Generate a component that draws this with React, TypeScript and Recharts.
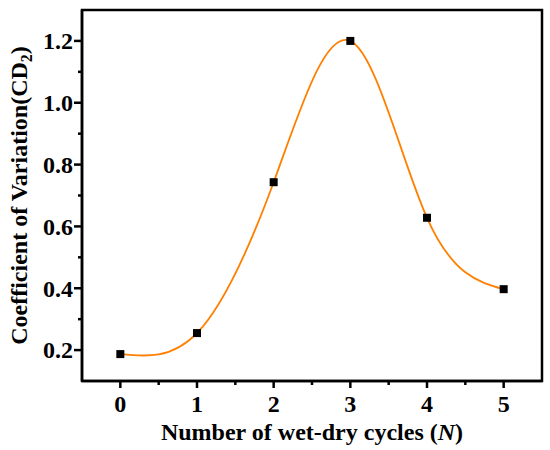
import { LineChart, XAxis, YAxis, Line, ReferenceArea } from 'recharts';

// wet-dry cycles N and the coefficient of variation
const cycles = [0, 1, 2, 3, 4, 5];
const cdValues = [0.187, 0.255, 0.743, 1.2, 0.628, 0.397];

const xTicks = [0, 0.5, 1, 1.5, 2, 2.5, 3, 3.5, 4, 4.5, 5];
const yTicks = [0.2, 0.3, 0.4, 0.5, 0.6, 0.7, 0.8, 0.9, 1.0, 1.1, 1.2];
const xDomain = [-0.5, 5.5];
const yDomain = [0.1, 1.3];

const data = cycles.map((n, i) => ({ n, cd: cdValues[i] }));

const FONT = '"Liberation Serif", "Times New Roman", serif';
const AXIS = { stroke: '#000', strokeWidth: 2.5 };

function XTick({ x, y, payload }: any) {
  const major = Number.isInteger(payload.value);
  return (
    <g>
      <line x1={x} x2={x} y1={y} y2={y + (major ? 7 : 4)} stroke="#000" strokeWidth={2.5} />
      {major && (
        <text x={x} y={y + 31} textAnchor="middle" fontFamily={FONT} fontWeight="bold" fontSize={24} fill="#000">
          {payload.value}
        </text>
      )}
    </g>
  );
}

function YTick({ x, y, payload }: any) {
  const major = Math.round(payload.value * 10) % 2 === 0;
  return (
    <g>
      <line x1={x} x2={x - (major ? 8 : 4)} y1={y} y2={y} stroke="#000" strokeWidth={2.5} />
      {major && (
        <text x={x - 9} y={y} dy="0.35em" textAnchor="end" fontFamily={FONT} fontWeight="bold" fontSize={24} fill="#000">
          {payload.value.toFixed(1)}
        </text>
      )}
    </g>
  );
}

function XTitle({ viewBox }: any) {
  const { x, y, width } = viewBox;
  return (
    <text x={x + width / 2} y={y + 59} textAnchor="middle" fontFamily={FONT} fontWeight="bold" fontSize={24} fill="#000">
      Number of wet-dry cycles (<tspan fontStyle="italic">N</tspan>)
    </text>
  );
}

function YTitle({ viewBox }: any) {
  const { y, height } = viewBox;
  const cx = 27;
  const cy = y + height / 2;
  return (
    <text x={cx} y={cy} transform={`rotate(-90, ${cx}, ${cy})`} textAnchor="middle" fontFamily={FONT} fontWeight="bold" fontSize={24} fill="#000">
      Coefficient of Variation(CD<tspan fontSize={16} dy={5}>2</tspan><tspan dy={-5}>)</tspan>
    </text>
  );
}

function SquareDot({ cx, cy }: any) {
  return <rect x={cx - 4} y={cy - 4} width={8} height={8} fill="#000" />;
}

export default function App() {
  return (
    <div style={{ position: 'absolute', left: 0, top: 0, background: '#fff' }}>
      <LineChart width={550} height={450} data={data} margin={{ top: 10, right: 8, bottom: 0, left: 0 }}>
        <XAxis
          dataKey="n"
          type="number"
          domain={xDomain}
          ticks={xTicks}
          interval={0}
          height={69}
          axisLine={AXIS}
          tickLine={false}
          tickSize={0}
          tickMargin={0}
          tick={<XTick />}
          label={{ content: <XTitle /> }}
        />
        <YAxis
          type="number"
          domain={yDomain}
          ticks={yTicks}
          interval={0}
          width={82}
          axisLine={AXIS}
          tickLine={false}
          tickSize={0}
          tickMargin={0}
          tick={<YTick />}
          label={{ content: <YTitle /> }}
        />
        <ReferenceArea
          x1={xDomain[0]}
          x2={xDomain[1]}
          y1={yDomain[0]}
          y2={yDomain[1]}
          fill="none"
          fillOpacity={0}
          stroke="#000"
          strokeWidth={2.5}
          ifOverflow="visible"
        />
        <Line
          dataKey="cd"
          type="natural"
          stroke="#ff8000"
          strokeWidth={1.8}
          dot={(p: any) => <SquareDot key={p.index} {...p} />}
          activeDot={false}
          isAnimationActive={false}
        />
      </LineChart>
    </div>
  );
}
